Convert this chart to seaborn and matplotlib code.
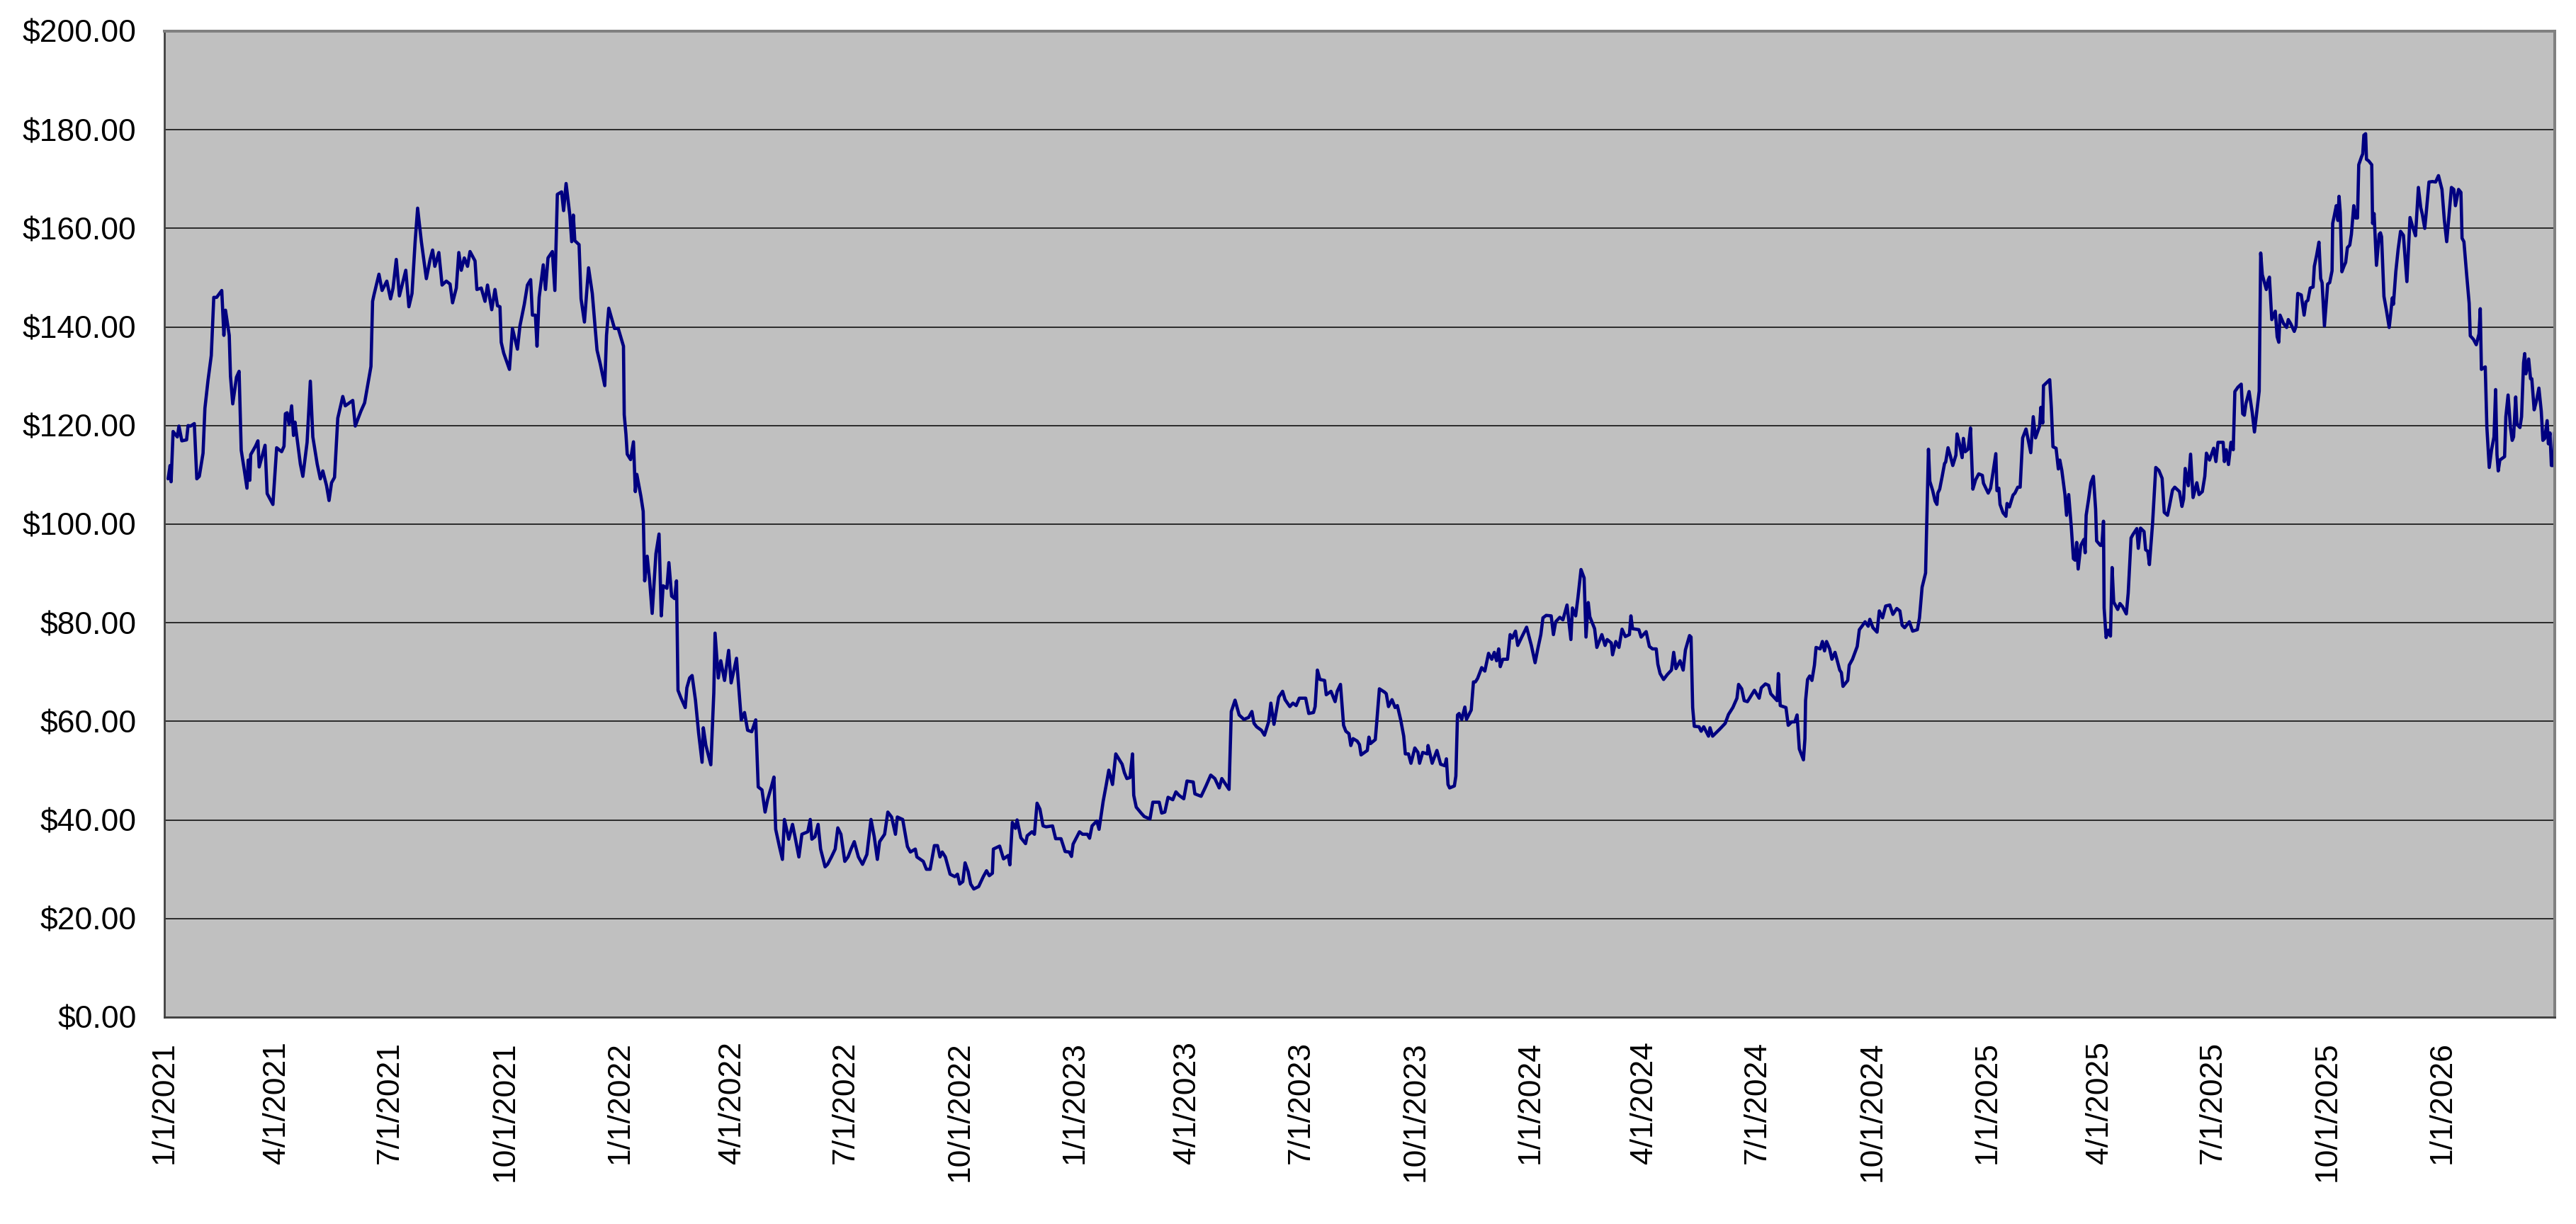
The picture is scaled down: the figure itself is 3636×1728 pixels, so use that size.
import matplotlib
matplotlib.use("Agg")
import matplotlib.pyplot as plt
import pandas as pd
import seaborn as sns

# series start / axis end
start_date = "2021-01-01"
end_date = "2026-04-01"

# days since 1/1/2021
day_offset = [
    3, 4.6, 5.4, 7, 10.4, 11.7, 14, 17.8, 19, 21, 24, 26, 28, 31, 32.5, 35, 37.6, 39.6, 41.9, 46,
    47.7, 49, 52, 53, 54.8, 57.8, 59.9, 61.6, 64, 66.2, 67.2, 68.5, 69.2, 73, 75, 76, 80.7, 82.4, 87, 90,
    94, 95.9, 97, 98.4, 100, 102, 103.5, 104.7, 109, 111, 114.4, 117, 119, 122.5, 125, 127, 130, 132, 134, 136.4,
    139, 143, 145, 151, 153, 157.5, 160.5, 165.6, 166.9, 168, 172, 174.5, 178.3, 181.3, 183.3, 185.9, 188.4, 193.5, 196, 198.5,
    201, 203, 206, 210, 213, 215, 216.8, 220, 222.6, 226, 229, 231, 234, 236, 238, 240.4, 243, 245, 249, 250.5,
    254, 257, 259, 262.4, 265, 267, 269, 270, 272, 276.6, 279, 283, 285, 288.5, 291, 293.6, 295, 297.4, 298.7, 300.4,
    303.7, 305.5, 307.5, 311, 313, 315, 318.4, 320, 322, 325, 326.5, 327.8, 329, 332.4, 334, 336.7, 340, 343, 346.8, 349.4,
    353, 354.4, 356.2, 360.8, 363.8, 368,
    368.6, 370, 371, 373.7, 376, 377.5, 378.7, 382, 383.8, 385, 387, 389, 391, 394, 396.5, 398.3, 399.8, 402.8, 404.4, 406.6,
    409, 410.5, 411.7, 414, 417.5, 418.8, 421, 423, 425.7, 428.2, 431, 432, 434, 438, 440.4, 441.4, 444, 446, 449, 452.3,
    454.3, 458.6, 460.7, 462.4, 465, 467.5, 470.8, 474, 476, 479, 481.5, 483.5, 486.5, 488.6, 490, 493, 495.4, 497, 500.5, 503.5,
    505.5, 508.6, 511, 515.7, 517.7, 519, 521.5, 524, 526, 529.6, 531.6, 534.7, 537.7, 539.8, 542.3, 545.4, 548, 550.4, 553, 556.3,
    559.6, 563.1, 566.4, 569, 571.5, 573.3, 577.3, 579.9, 582.9, 586, 587.5, 591.8, 595.6, 598, 601.9, 603.2, 608.3, 610.8, 613.8, 617.2,
    619.7, 621.7, 623.5, 626, 629.8, 633.6, 635.7, 637.5, 640, 641.8, 644.3, 646.3, 648.8, 652.7, 656.4, 659,
    661.2, 663.7, 664.5, 669.5, 672.6, 676.4, 677.7, 679.7, 682.2, 683.5, 686.5, 690.3, 691.6, 695.4, 697.4, 699.5, 701.8, 704.3, 706.8, 711.9,
    714.4, 718.7, 722, 725.3, 727.1, 728.4, 733.5, 736, 739.8, 741.6, 743.6, 747.4, 749.2, 752.5, 755, 757, 760, 762.6, 767.7, 769.5,
    771.5, 774, 776, 777, 779, 782.9, 785.4, 790, 792.3, 797.4, 799.4, 801.9, 804.5, 808.3, 810.8, 813.3, 817.1, 819.7, 824.7, 826,
    831, 834.9, 838.7, 842, 845.5, 847.6, 853.4, 855.2, 858.2, 861.5, 865.3, 869.1, 871.7, 873.4, 875.5, 879.3, 881.8, 885.1, 886.9, 889.4,
    893.2, 896.3, 898.3, 902.1, 904.6, 907.2, 909.7, 914.8, 917.3, 921.1, 922.4, 924.2, 926.2, 930, 931.3, 935.1, 938.4, 940.1, 942.7, 945.2,
    947, 949.5, 951, 952.8, 956.1, 957.9, 959.2, 964.2, 965.5, 966.8, 970.6, 971.8, 973.9, 978.2, 979.4, 981.2, 984, 986.5, 988.3, 990.9,
    993.4, 994.7, 997.2, 999.2, 1002.3, 1004.8, 1006.1, 1008.6, 1012.4, 1012.9, 1016.2, 1020, 1023, 1026.4, 1027.6, 1028.9, 1030.2, 1034, 1035.2, 1036.5,
    1037.8,
    1039.9, 1042.4, 1043.7, 1047.5, 1049.3, 1050.8, 1052.6, 1055.9, 1058.4, 1061.4, 1064, 1066, 1067.8, 1069.5, 1070.8, 1072.8, 1076.6, 1078.7, 1080.4, 1083,
    1084.8, 1088, 1091.9, 1095.7, 1098.7, 1100.7, 1103.3, 1105, 1107.6, 1111.6, 1113.4, 1115.2, 1118.5, 1121, 1124.3, 1127.4, 1128.6, 1131.2, 1133, 1135.5,
    1138, 1139.5, 1141.3, 1142.6, 1146.4, 1148.2, 1152.2, 1154.8, 1156.5, 1159.8, 1160.8, 1163.4, 1165.9, 1168.4, 1171, 1174.3, 1175.5, 1176.8, 1181.9, 1183.7,
    1187.7, 1190.3, 1192.8, 1195.8, 1197.1, 1198.9, 1201.7, 1204.7, 1208, 1209.8, 1211.6, 1214.9, 1217.4, 1219.2, 1222.5, 1223.7, 1225, 1226.3, 1230.1, 1231.8,
    1233.9, 1237.7, 1238.9, 1241, 1246.6, 1251.1, 1253.7, 1257.2, 1260.5, 1261.8, 1264.3, 1266.3, 1268.9, 1270.6, 1274.5, 1278.3, 1280, 1283.3, 1285.9, 1287.6,
    1290.9, 1292.7, 1293.7, 1295.2, 1299.8, 1301.6, 1304.4, 1306.9, 1308.7, 1310.5, 1313.8, 1315, 1315.5, 1317.1, 1318.8, 1320.6, 1322.6, 1323.9, 1327.2, 1329,
    1330.7, 1332.3, 1334.8, 1336.6, 1339.1, 1342.9, 1344.2, 1345.5, 1349.3, 1350.5, 1353.1, 1356.9, 1358.6, 1360.7, 1363.2, 1365.7, 1367, 1369.5, 1372.8, 1374.6,
    1377.2, 1379.7, 1383, 1385.5, 1388.6, 1391.1, 1392.9, 1394.9, 1398.7, 1401.3, 1405.1, 1406.8,
    1408.9, 1411.7, 1412.6, 1414, 1415.1, 1417.4, 1419.3, 1420.8, 1421.5, 1423, 1425, 1426.9, 1427.8, 1429.7, 1431.6, 1433.5, 1436, 1436.9, 1438.8, 1441,
    1442, 1443.5, 1445.8, 1447.7, 1449.6, 1451.8, 1454.3, 1457.2, 1458.1, 1461.9, 1463.8, 1465.7, 1468, 1468.9, 1470.4, 1471.4, 1473.8, 1476.1, 1477, 1478.9,
    1481.8, 1483.3, 1485.6, 1487.5,
    1489.5, 1492.2, 1496, 1498, 1499.8, 1503.1, 1504.1, 1505.6, 1506.2, 1511.2, 1512.5, 1513.8, 1516.3, 1518.1, 1519.3, 1520.9, 1523.4, 1524.7, 1526.4, 1528.5,
    1530.2, 1531.5, 1532.8, 1534, 1536.1, 1538.6, 1539.6, 1540.4, 1542.2, 1544.2, 1546.2, 1548, 1548.8, 1551.8, 1553, 1554.3, 1554.8, 1556.4, 1558.1, 1559.9,
    1561.2, 1562.5, 1565.7, 1567.5, 1569.5, 1572.6, 1574.1, 1576.4, 1577.9, 1581, 1582.2, 1584, 1586.8, 1588.1, 1589.8, 1591.1, 1593.6, 1596.2, 1598.7, 1601.3,
    1603, 1605.6, 1607.1, 1609.6, 1611.4, 1615.2, 1617.2, 1618.5, 1619.8, 1622.3, 1624.1, 1626.1, 1629.1, 1630.9, 1633.5, 1635.5, 1636.8, 1639.3, 1642.6, 1644.4,
    1646.1, 1650.2, 1651.2, 1652.7, 1654.5, 1656.5, 1658.3, 1659.6, 1662.1, 1664.7, 1665.9, 1667.2, 1668.5, 1671, 1673.5, 1675.3,
    1679.1, 1680.3, 1681.6, 1684.8, 1686.3, 1687.3, 1689.2, 1692, 1693.5, 1694.8, 1695.8, 1698.6, 1701.1, 1702.4, 1704.3, 1707.2, 1708.7, 1710, 1712.8, 1715.1,
    1716.6, 1718.1, 1720, 1722.3, 1723.3, 1725.1, 1727, 1728.4, 1729.5, 1731.4, 1734, 1735.6, 1737.5, 1738, 1739.4, 1740.9, 1742.2, 1743.1, 1744.1, 1745.4,
    1747, 1748.4, 1749.8, 1751.7, 1753, 1754.9, 1756.4, 1757.9, 1758.9, 1761.1, 1762.1, 1763, 1764.4, 1765.1, 1766.8, 1769.3, 1770, 1771.2, 1773.1, 1775.3,
    1776.3, 1777.2, 1779.1, 1781, 1783.3, 1784.4, 1785.8, 1786.7, 1788.6, 1790.5, 1792.4, 1794.7, 1796.2, 1797.5,
    1800, 1802.3, 1804.4, 1806.7, 1808.6, 1809.9, 1811.8, 1812.9, 1815.2, 1818, 1820.5, 1822.8, 1825.6, 1827.5, 1829.4, 1831.3, 1833.2, 1835.1, 1836.4, 1838.9,
    1840.8, 1841.7, 1843.2, 1845.5, 1847.4, 1848.3, 1850.8, 1853.1, 1855.3, 1856.3, 1857.2, 1860.3, 1861.6, 1863.5, 1865.4, 1867.3, 1868.6, 1869.7, 1870.7, 1872,
    1875.8, 1876.8, 1878.6, 1880.5, 1881.9, 1883, 1884.7, 1885.7, 1888.1, 1889.4, 1891, 1891.9, 1892.9, 1895.1, 1896.6, 1897.6, 1899.5, 1901.4, 1903.3, 1905.2,
    1906.5, 1908, 1909.9, 1910.9, 1912.2, 1913.3, 1915, 1916,
]

# closing price in dollars, same order as day_offset
price = [
    109.2, 111.9, 108.6, 118.8, 117.7, 119.9, 116.9, 117.1, 120, 119.9, 120.4, 109.2, 109.7, 114.4, 123.5, 129.2, 134.2, 146, 146, 147.4,
    138.3, 143.4, 138.3, 130, 124.4, 129.8, 131, 115, 111.1, 107.3, 113, 108.9, 114.1, 115.8, 116.9, 111.6, 116, 106.2, 104, 115.5,
    114.7, 115.8, 122.4, 122.6, 120.2, 124, 118, 120.7, 112.2, 109.7, 116.6, 129, 117.7, 112.2, 109.2, 110.8, 107.8, 104.8, 108.4, 109.5,
    121.5, 125.9, 124, 125.1, 119.9, 122.9, 124.6, 132, 145.2, 146.5, 150.7, 147.4, 149.3, 145.7, 147.9, 153.7, 146.3, 151.5, 144.1, 146.8,
    157.3, 164.1, 157.3, 149.8, 153.7, 155.6, 152.3, 155.1, 148.5, 149.3, 148.7, 144.9, 147.9, 155.1, 151.5, 154, 152.3, 155.3, 153.4, 147.6,
    147.9, 145.2, 148.5, 143.5, 147.6, 144.3, 144.1, 136.9, 134.7, 131.4, 139.7, 135.5, 140.2, 144.6, 148.5, 149.6, 142.4, 142.4, 136.1, 146,
    152.6, 147.6, 154, 155.3, 147.4, 166.9, 167.4, 163.6, 169.1, 162.7, 157.3, 162.7, 157.5, 156.7, 145.7, 141, 152, 146.8, 135.3, 132.5,
    128.1, 138.3, 143.8, 139.7, 139.7, 136.1,
    122.2, 118.2, 114.2, 113.1, 116.7, 106.6, 110.1, 105.6, 102.6, 88.5, 93.5, 88.5, 81.9, 94, 98, 81.4, 87.5, 87, 92.2, 85.4,
    84.9, 88.5, 66.3, 64.8, 62.8, 66.8, 68.8, 69.3, 64.3, 57.7, 51.7, 58.7, 55.2, 51.2, 65.8, 77.9, 68.8, 72.3, 68.3, 74.4,
    67.8, 72.8, 65.8, 60.3, 61.8, 58.2, 57.9, 60.3, 46.7, 46.1, 41.6, 44.1, 46.7, 48.7, 38.1, 34.6, 32, 40.1, 36.1, 39.1,
    36.6, 32.5, 37.1, 37.6, 40.1, 36.1, 36.6, 39.1, 34.1, 30.5, 31, 32.5, 34.1, 38.4, 37.1, 31.6, 32.5, 34.1, 35.6, 32.5,
    31, 33, 40.1, 36.6, 32, 35.6, 37.1, 41.6, 40.6, 37.1, 40.6, 40.1, 34.6, 33.5, 34.1, 32.5, 31.6, 30, 30, 34.8,
    34.8, 32.5, 33.5, 32.5, 29, 28.5, 29, 27, 27.5, 31.3, 29.5, 27, 26, 26.5, 28.5, 29.7,
    28.7, 29.2, 34.1, 34.7, 32.1, 32.8, 30.9, 39.5, 38.3, 40, 36.4, 35.2, 36.8, 37.6, 37.1, 43.4, 42.2, 38.8, 38.6, 38.8,
    36.2, 36.2, 33.6, 33.5, 32.6, 35.1, 37.6, 37.1, 37.1, 36.3, 38.8, 39.8, 38.1, 43.8, 47.2, 50.1, 47.2, 53.4, 51.3, 49.6,
    48.4, 48.6, 53.4, 45, 42.6, 41.4, 40.7, 40.2, 43.6, 43.6, 41.4, 41.6, 44.6, 44.1, 45.7, 45, 44.3, 47.9, 47.7, 45.3,
    44.8, 46.9, 49.1, 48.4, 46.5, 48.4, 46.2, 62, 64.3, 61.3, 60.4, 60.8, 62, 59.6, 58.9, 58.2, 57.2, 59.9, 63.7, 59.4,
    64.9, 66.1, 64.4, 63, 63.7, 63.2, 64.7, 64.7, 61.6, 61.8, 63, 70.4, 68.5, 68.3, 65.4, 66.1, 64, 66.1, 67.5, 59.2,
    58, 57.5, 55.1, 56.5, 56, 55.3, 53.2, 54.1, 56.8, 55.5, 56.3, 59.9, 66.6, 65.9, 65.6, 63, 64.4, 62.8, 63.2, 60.4,
    57, 53.4, 53.4, 51.5, 54.6, 53.7, 51.5, 53.7, 53.4, 55.1, 51.5, 54.1, 51.3, 51, 52.4, 47.2, 46.5, 46.9, 48.9, 61.3,
    61.6,
    60.4, 62.9, 60.4, 62.3, 68, 68, 68.7, 70.9, 70.2, 73.8, 72.6, 74, 72.3, 74.7, 71.1, 72.6, 72.6, 77.6, 76.9, 78.3,
    75.4, 77.1, 79.1, 75.4, 71.9, 74.5, 77.6, 81, 81.5, 81.4, 77.6, 80.2, 81.1, 80.6, 83.6, 76.6, 83, 81.4, 85, 90.8,
    89.1, 77.1, 84.1, 81.2, 78.8, 75, 77.6, 75.4, 76.6, 75.9, 73.5, 76.2, 75, 78.7, 77.2, 77.6, 81.4, 78.8, 78.6, 77.1,
    78.2, 75.2, 74.7, 74.7, 71.6, 69.7, 68.5, 69.5, 70.4, 74, 70.7, 72.3, 70.4, 74.5, 77.4, 77.1, 62.8, 59, 58.9, 58,
    58.9, 57, 58.7, 57, 58.4, 59.6, 61.4, 62.8, 64.7, 67.5, 66.6, 64.2, 64, 64.7, 66.3, 64.7, 66.8, 67.6, 67.3, 65.6,
    64.7, 64.2, 69.7, 63.2, 62.8, 59.2, 59.9, 59.9, 61.3, 54.4, 52.2, 56.5, 64.2, 68.5, 69.2, 68.3, 71.4, 75, 74.7, 76.2,
    74.3, 76.2, 74.7, 72.6, 74, 70.4, 69.9, 67.1, 68.3, 71.4, 72.6, 75.2, 78.6, 79.3, 80.2, 79.3, 80.7, 79, 78.1, 82.4,
    81, 83.4, 83.6, 81.7, 82.9, 82.4, 79.5, 79, 80.2, 78.3, 78.6, 81,
    87.2, 90.1, 100.1, 115.2, 108.7, 106.8, 104.7, 104, 106.3, 107.1, 109.7, 112.3, 112.6, 115.5, 113.8, 111.9, 114, 118.3, 116.4, 113.5,
    117.4, 114.7, 115.2, 119.5, 107.1, 109, 110.2, 109.9, 108.3, 106.3, 107.3, 110.4, 114.3, 106.8, 107.3, 104, 102.3, 101.6, 104.2, 103.5,
    105.9, 106.3, 107.5, 107.5,
    117.5, 119.3, 114.5, 121.8, 117.5, 119.9, 123.7, 120.5, 128.1, 129.3, 123.6, 115.7, 115.4, 111.2, 113, 110.9, 106, 101.8, 106, 99.4,
    93, 92.7, 96.3, 90.9, 95.7, 96.9, 94.2, 101.8, 104.8, 108.4, 109.7, 103, 96.6, 95.7, 95.7, 100.6, 83, 77, 78.5, 77.3,
    91.2, 84.2, 82.7, 83.9, 83.3, 81.8, 86, 97.2, 97.9, 99.1, 95.1, 99.2, 98.5, 94.8, 94.5, 91.8, 100, 111.5, 110.9, 109.3,
    102.4, 101.8, 103.6, 106.9, 107.5, 106.6, 103.6, 105.1, 111.3, 107.8, 114.2, 105.4, 108.4, 106, 106.6, 109.7, 114.4, 113, 115.4, 112.7,
    116.6, 116.6, 112.7, 115.1, 112.1, 116.6, 115.1, 126.9, 127.8, 128.4, 122.4, 122.1, 124.5, 126.9, 122.7, 118.7,
    127, 155, 150.6, 147.6, 149.5, 150.1, 141.5, 143.2, 138, 136.9, 142.4, 140.7, 139.9, 141.5, 140.7, 139.1, 140.2, 146.8, 146.5, 142.4,
    145.1, 145.4, 147.9, 148.1, 152.3, 154.5, 157.2, 149.8, 149, 140.2, 148.7, 149, 151.4, 161, 162.7, 164.6, 161.6, 166.5, 163.2, 151.2,
    152.3, 153.1, 156.1, 156.6, 158.8, 164.6, 162.1, 162.1, 172.9, 174.5, 175.1, 178.9, 179.2, 174, 173.7, 172.9, 161, 163, 152.5, 158.8,
    159.1, 158.3, 146.2, 143.5, 139.9, 142.4, 145.9, 144.6, 151.2, 155.8, 159.4, 158.6, 153.6, 149.2,
    162.2, 160.2, 158.5, 168.3, 164.2, 162.8, 160, 162.9, 169.4, 169.5, 169.4, 170.7, 167.9, 161.7, 157.3, 162.8, 168.3, 167.9, 164.6, 167.9,
    167.3, 158, 157.3, 150.3, 144.8, 138.2, 137.5, 136.4, 138.6, 143.7, 131.4, 131.9, 119.6, 111.5, 115.2, 117.7, 127.3, 114.1, 110.8, 113,
    113.7, 121.8, 126.2, 119.6, 117, 117.7, 125.8, 120.3, 119.6, 121.8, 132.7, 134.6, 130.5, 133.5, 129.5, 129.5, 123.2, 125.1, 127.6, 122.9,
    117, 117.4, 121, 116.3, 118.5, 111.9, 111.9, 118.7,
]

# axis ticks
tick_dates = pd.date_range(start_date, end_date, freq="QS")
y_ticks = list(range(0, 201, 20))

df = pd.DataFrame({
    "date": pd.Timestamp(start_date) + pd.to_timedelta(day_offset, unit="D"),
    "price": price,
})

sns.set_theme(style="white")
plt.rcParams["font.family"] = ["Liberation Sans", "DejaVu Sans"]

W, H = 3636, 1728
fig = plt.figure(figsize=(W / 100, H / 100), dpi=100)
fig.patch.set_facecolor("white")
ax = fig.add_axes([232 / W, 1 - 1436 / H, (3606 - 232) / W, (1436 - 44) / H])
ax.set_facecolor("#C0C0C0")

sns.lineplot(data=df, x="date", y="price", ax=ax, color="#000080",
             linewidth=3.3, estimator=None, sort=False)

ax.set_xlim(pd.Timestamp(start_date), pd.Timestamp(end_date))
ax.set_ylim(0, 200)
ax.set_yticks(y_ticks)
ax.set_yticklabels([f"${v:.2f}" for v in y_ticks])
ax.set_xticks(tick_dates)
xlabels = [f"{d.month}/{d.day}/{d.year}" for d in tick_dates]
xlabels[-1] = ""
ax.set_xticklabels(xlabels, rotation=90)
ax.set_xlabel("")
ax.set_ylabel("")

ax.grid(axis="y", color="#111111", linewidth=1.2)
ax.grid(axis="x", visible=False)
ax.set_axisbelow(True)

ax.tick_params(axis="both", direction="out", length=9.5, width=1.2,
               color="#333333", labelcolor="black", labelsize=32)
ax.tick_params(axis="y", pad=19)
ax.tick_params(axis="x", pad=15)

for side in ["top", "right"]:
    ax.spines[side].set_color("#808080")
    ax.spines[side].set_linewidth(2.9)
for side in ["left", "bottom"]:
    ax.spines[side].set_color("#404040")
    ax.spines[side].set_linewidth(2.0)

fig.savefig("out.png", dpi=100)
